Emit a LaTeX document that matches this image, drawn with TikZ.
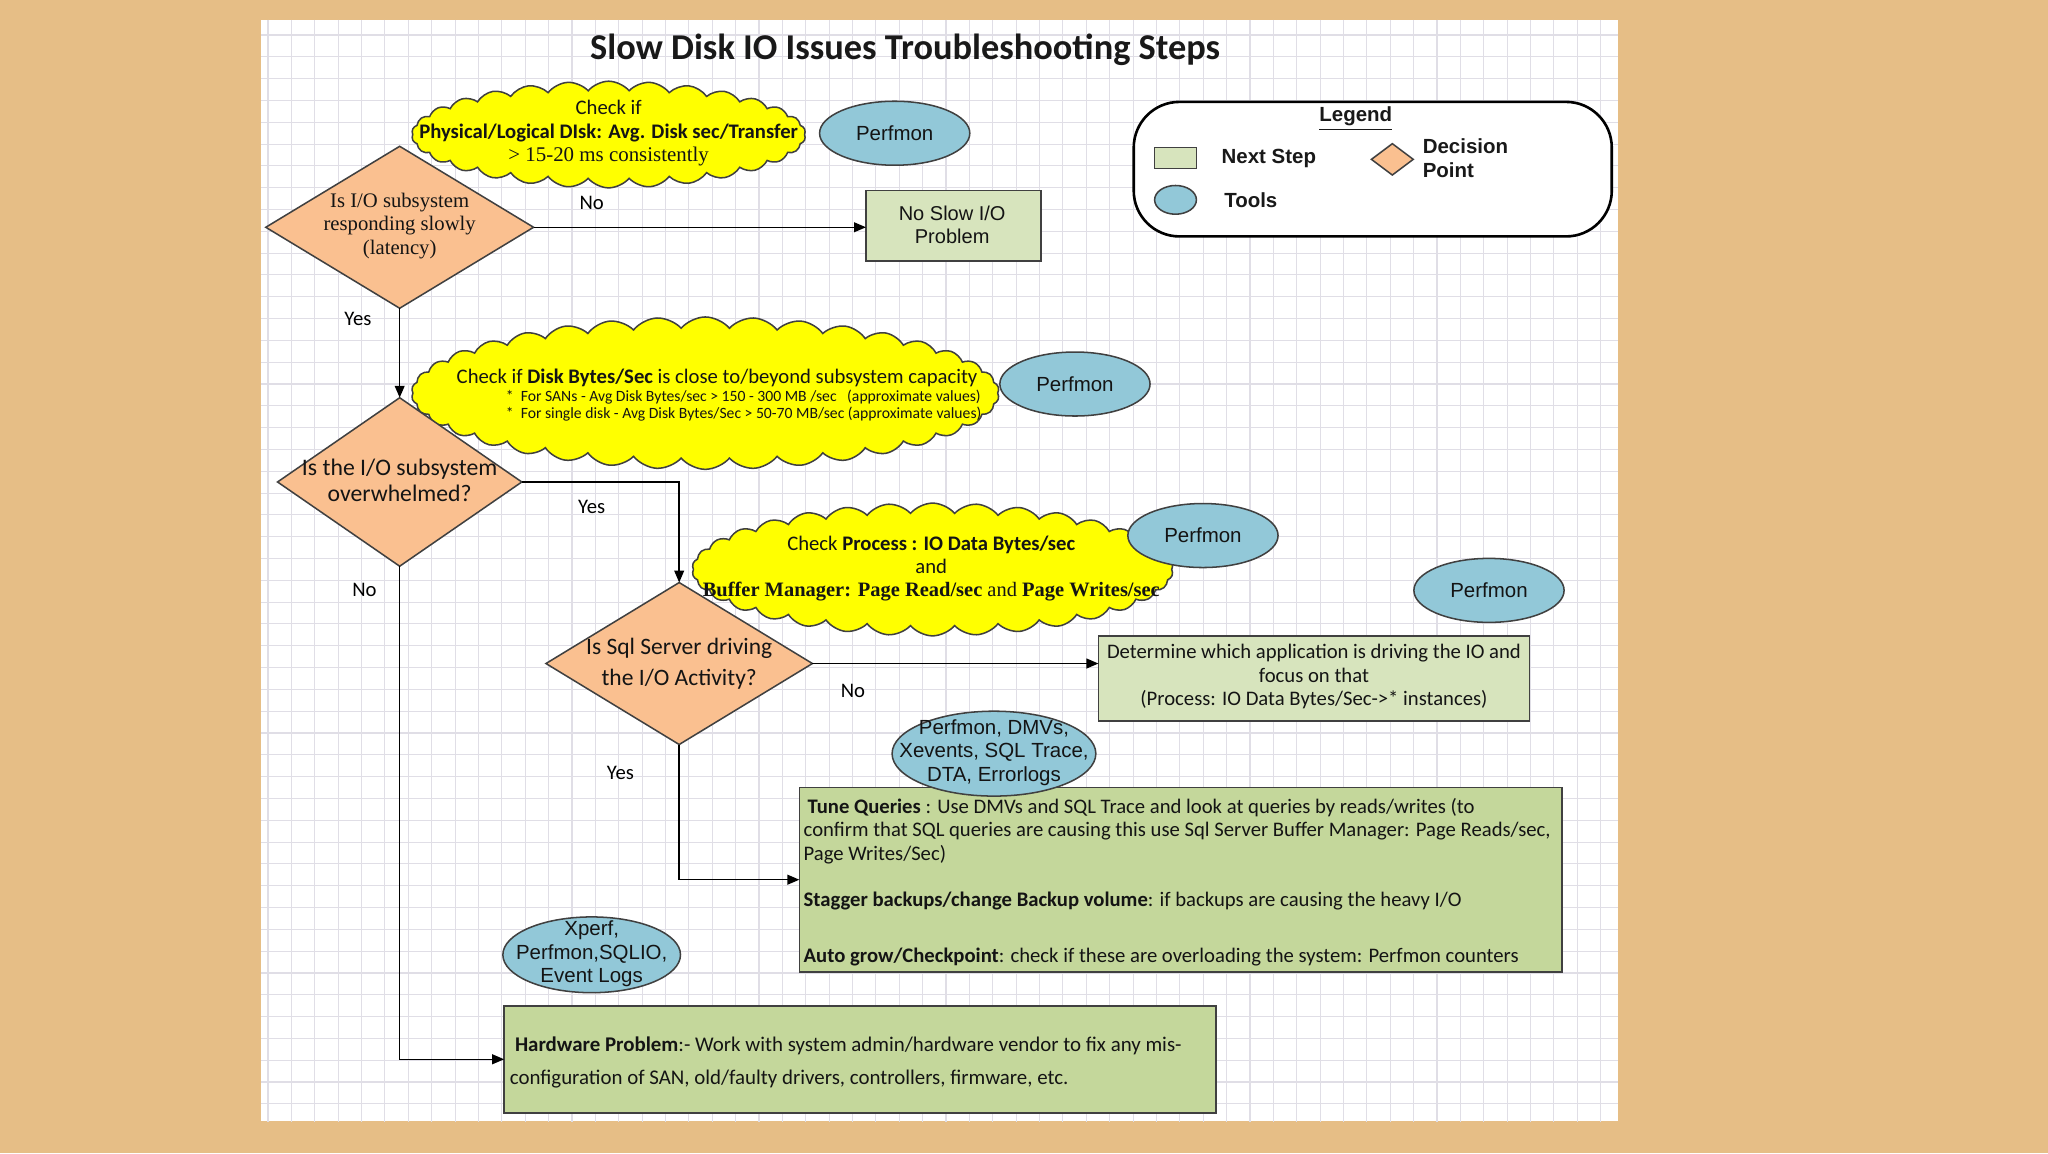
\documentclass[tikz,border=0pt]{standalone}
\usepackage{fontspec}
\setmainfont{Carlito}
\newfontfamily\arialf{Liberation Sans}
\newfontfamily\timesf{Liberation Serif}
\usetikzlibrary{shapes.geometric,shapes.symbols,arrows.meta}
\definecolor{wood}{RGB}{230,190,134}
\definecolor{peach}{RGB}{250,192,144}
\definecolor{toolblue}{RGB}{146,200,216}
\definecolor{lgreen}{RGB}{215,228,189}
\definecolor{dgreen}{RGB}{196,215,155}
\definecolor{gridc}{RGB}{224,222,230}
\definecolor{cyell}{RGB}{255,255,0}
\tikzset{
  shp/.style={draw=black!75, line width=0.7pt, inner sep=0pt, outer sep=0pt},
  dec/.style={shp, diamond, fill=peach},
  tool/.style={shp, ellipse, fill=toolblue},
  cld/.style={shp, cloud, fill=cyell, cloud ignores aspect, cloud puff arc=100},
  stepbox/.style={shp, rectangle, fill=lgreen},
  stepboxd/.style={shp, rectangle, fill=dgreen},
  conn/.style={line width=0.7pt, draw=black, -{Triangle[length=5.5pt,width=4.5pt]}},
  lbl/.style={font=\fontsize{9.5}{11}\selectfont, inner sep=0pt},
  txt/.style={inner sep=0pt, align=center, text=black!92},
  txtl/.style={inner sep=0pt, anchor=west, text=black!92},
  tooltxt/.style={txt, font=\arialf\fontsize{9.4}{10.8}\selectfont},
  legtxt/.style={inner sep=0pt, text=black!90, font=\arialf\bfseries\fontsize{9.4}{10.8}\selectfont},
}
\begin{document}
\begin{tikzpicture}[x=0.6pt,y=-0.6pt]
\useasboundingbox (0,0) rectangle (1568,882.8);
\fill[wood] (0,0) rectangle (1568,882.8);
% paper
\fill[white] (200,15.3) rectangle (1238.6,858.4);
\begin{scope}
\clip (200,15.3) rectangle (1238.6,858.4);
\foreach \i in {0,...,57} \draw[gridc, line width=0.5pt] ({205.2+17.9*\i},15) -- ++(0,845);
\foreach \j in {0,...,49} \draw[gridc, line width=0.5pt] (200,{26.8+16.7*\j}) -- ++(1040,0);
\end{scope}

% title
\node[inner sep=0pt, font=\bfseries\fontsize{16.7}{20}\selectfont, text=black!90] (title) at (693,38) {Slow Disk IO Issues Troubleshooting Steps};

% legend
\draw[line width=1.2pt, rounded corners=21pt, fill=white] (868,78) rectangle (1234,181);
\node[legtxt] (legt) at (1038,91) {\underline{Legend}};
\node[stepbox, minimum width=19.2pt, minimum height=9.6pt] (legbox) at (900,121) {};
\node[legtxt, anchor=west] (legbt) at (935,121) {Next Step};
\node[dec, minimum width=19.2pt, minimum height=14.4pt] (legdia) at (1066,122) {};
\node[legtxt, anchor=west, align=left] (legdt) at (1089,121) {Decision\\Point};
\node[tool, minimum width=19.2pt, minimum height=13.2pt] (legell) at (900,153) {};
\node[legtxt, anchor=west] (legtt) at (937,153) {Tools};

% shapes
\node[cld, cloud puffs=30, minimum width=181pt, minimum height=49pt] (c1) at (466,103) {};
\node[txt, font=\fontsize{9.5}{10.8}\selectfont] (c1t) at (466,102) {Check if\\\textbf{Physical/Logical DIsk: Avg. Disk sec/Transfer}\\{\timesf\fontsize{9.6}{10.8}\selectfont > 15-20 ms consistently}};
\node[tool, minimum width=69pt, minimum height=29.4pt] (p1) at (685,102) {};
\node[tooltxt] (p1t) at (685,102) {Perfmon};

\node[dec, minimum width=123pt, minimum height=74.4pt] (d1) at (306,174) {};
\node[txt, font=\timesf\fontsize{9.5}{10.8}\selectfont] (d1t) at (306,173) {Is I/O subsystem\\responding slowly\\(latency)};

\node[stepbox, minimum width=80.4pt, minimum height=32.4pt] (ns) at (730,173) {};
\node[txt, font=\arialf\fontsize{9.2}{10.8}\selectfont] (nst) at (729,172) {No Slow I/O\\Problem};

\node[cld, cloud puffs=38, minimum width=270pt, minimum height=70pt] (c2) at (540,301) {};
\node[txt, font=\fontsize{9.5}{10}\selectfont] (c2a) at (549,289) {Check if \textbf{Disk Bytes/Sec} is close to/beyond subsystem capacity};
\node[txtl, font=\fontsize{7.2}{8}\selectfont] (c2b) at (387,304) {*\ \ For SANs - Avg Disk Bytes/sec > 150 - 300 MB /sec\ \ \ (approximate values)};
\node[txtl, font=\fontsize{7.2}{8}\selectfont] (c2c) at (387,317) {*\ \ For single disk - Avg Disk Bytes/Sec > 50-70 MB/sec (approximate values)};
\node[tool, minimum width=69pt, minimum height=29.4pt] (p2) at (823,294) {};
\node[tooltxt] (p2t) at (823,294) {Perfmon};

\node[dec, minimum width=112.2pt, minimum height=77.4pt] (d2) at (306,369) {};
\node[txt, font=\fontsize{10.9}{12}\selectfont] (d2t) at (306,368) {Is the I/O subsystem\\overwhelmed?};

\node[cld, cloud puffs=34, minimum width=221pt, minimum height=61pt] (c3) at (714,436) {};
\node[txt, font=\fontsize{9.5}{10.5}\selectfont] (c3t) at (713,435.5) {Check \textbf{Process : IO Data Bytes/sec}\\and\\{\timesf\fontsize{9.4}{10.5}\selectfont\textbf{Buffer Manager: Page Read/sec} and \textbf{Page Writes/sec}}};
\node[tool, minimum width=69pt, minimum height=29.4pt] (p3) at (921,410) {};
\node[tooltxt] (p3t) at (921,410) {Perfmon};
\node[tool, minimum width=69pt, minimum height=29.4pt] (p4) at (1140,452) {};
\node[tooltxt] (p4t) at (1140,452) {Perfmon};

\node[dec, minimum width=122.4pt, minimum height=74.4pt] (d3) at (520,508) {};
\node[txt, font=\fontsize{10.8}{14.4}\selectfont] (d3t) at (520,508) {Is Sql Server driving\\the I/O Activity?};

\node[stepbox, minimum width=198pt, minimum height=39pt] (det) at (1006,519.5) {};
\node[txt, font=\fontsize{9.5}{10.8}\selectfont] (dett) at (1006,518) {Determine which application is driving the IO and\\focus on that\\(Process: IO Data Bytes/Sec->* instances)};

\node[stepboxd, minimum width=350.4pt, minimum height=84.6pt] (tune) at (904,673.5) {};
\node[tool, minimum width=93.6pt, minimum height=39pt] (dmv) at (761,577) {};
\node[tooltxt] (dmvt) at (761,576) {Perfmon, DMVs,\\Xevents, SQL Trace,\\DTA, Errorlogs};
\begin{scope}[every node/.style={txtl, font=\fontsize{9.5}{10.8}\selectfont}]
\node (tu1) at (618,618) {\textbf{Tune Queries} : Use DMVs and SQL Trace and look at queries by reads/writes (to};
\node (tu2) at (615,636) {confirm that SQL queries are causing this use Sql Server Buffer Manager: Page Reads/sec,};
\node (tu3) at (615,654) {Page Writes/Sec)};
\node (tu4) at (615,690) {\textbf{Stagger backups/change Backup volume}: if backups are causing the heavy I/O};
\node (tu5) at (615,733) {\textbf{Auto grow/Checkpoint}: check if these are overloading the system: Perfmon counters};
\end{scope}

\node[tool, minimum width=81.6pt, minimum height=34.8pt] (xp) at (453,731) {};
\node[tooltxt] (xpt) at (453,730.5) {Xperf,\\Perfmon,SQLIO,\\Event Logs};

\node[stepboxd, minimum width=327pt, minimum height=49.2pt] (hw) at (658.5,811) {};
\node[txtl, font=\fontsize{9.6}{11}\selectfont] (hw1) at (394,801) {\textbf{Hardware Problem}:- Work with system admin/hardware vendor to fix any mis-};
\node[txtl, font=\fontsize{9.6}{11}\selectfont] (hw2) at (390,826) {configuration of SAN, old/faulty drivers, controllers, firmware, etc.};

% connectors
\draw[conn] (d1.east) -- (d1.east -| ns.west);
\draw[conn] (d1.south) -- (d2.north);
\draw[conn] (d2.east) -| (d3.north);
\draw[conn] (d3.east) -- (d3.east -| det.west);
\draw[conn] (d3.south) |- (tune.west);
\draw[conn] (d2.south) |- (hw.west);

% labels
\node[lbl] (l1) at (453,155) {No};
\node[lbl] (l2) at (274,244) {Yes};
\node[lbl] (l3) at (453,388) {Yes};
\node[lbl] (l4) at (279,452) {No};
\node[lbl] (l5) at (653,529) {No};
\node[lbl] (l6) at (475,592) {Yes};
\end{tikzpicture}
\end{document}
